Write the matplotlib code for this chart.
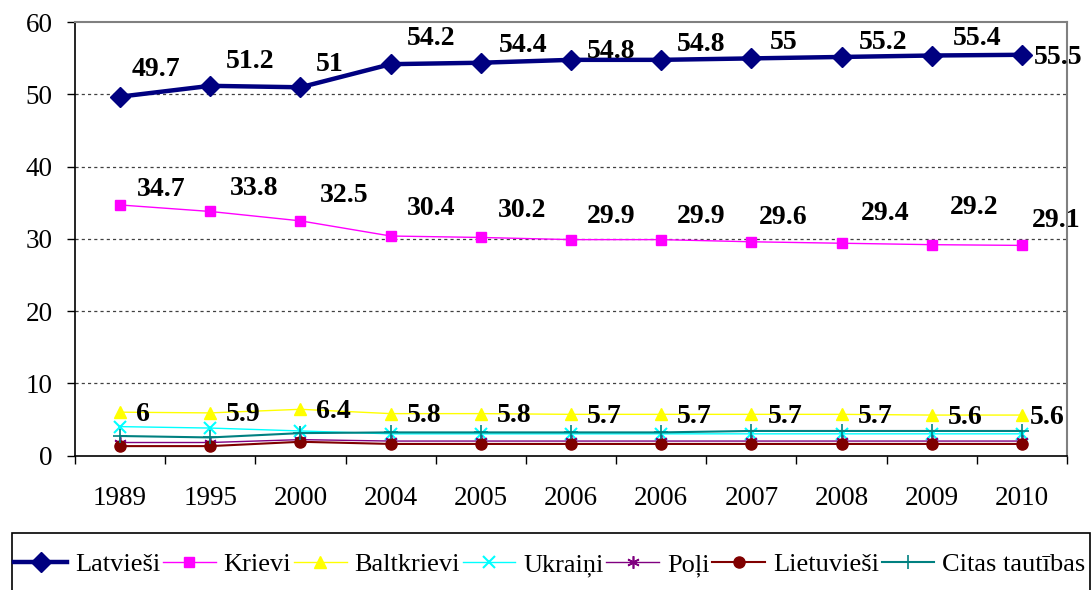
import matplotlib
matplotlib.use("Agg")
import matplotlib.pyplot as plt
from matplotlib.ticker import FixedLocator, NullFormatter
from matplotlib.patches import Rectangle

# ---- data ----
years = ["1989", "1995", "2000", "2004", "2005", "2006", "2006", "2007", "2008", "2009", "2010"]
latviesi = [49.7, 51.2, 51.0, 54.2, 54.4, 54.8, 54.8, 55.0, 55.2, 55.4, 55.5]
krievi = [34.7, 33.8, 32.5, 30.4, 30.2, 29.9, 29.9, 29.6, 29.4, 29.2, 29.1]
baltkrievi = [6.0, 5.9, 6.4, 5.8, 5.8, 5.7, 5.7, 5.7, 5.7, 5.6, 5.6]
ukraini = [4.0, 3.8, 3.4, 3.0, 3.0, 3.0, 3.0, 3.0, 3.0, 3.0, 3.0]
poli = [1.8, 1.8, 2.2, 2.0, 2.0, 2.0, 2.0, 2.0, 2.0, 2.0, 2.0]
lietuviesi = [1.3, 1.3, 1.9, 1.6, 1.6, 1.6, 1.6, 1.6, 1.6, 1.6, 1.6]
citas = [2.7, 2.5, 3.1, 3.2, 3.2, 3.2, 3.2, 3.4, 3.4, 3.4, 3.4]
labels_lv = ["49.7", "51.2", "51", "54.2", "54.4", "54.8", "54.8", "55", "55.2", "55.4", "55.5"]
labels_ru = ["34.7", "33.8", "32.5", "30.4", "30.2", "29.9", "29.9", "29.6", "29.4", "29.2", "29.1"]
labels_by = ["6", "5.9", "6.4", "5.8", "5.8", "5.7", "5.7", "5.7", "5.7", "5.6", "5.6"]

# ---- label placement (pixel offsets of label left edge / centre) ----
off_lv = [(12, 27), (16, 24), (15, 23), (16, 26), (18, 17), (16, 8), (16, 15), (18, 16), (17, 14), (21, 17), (12, -3)]
off_ru = [(17, 15), (20, 23), (19, 25), (16, 28), (17, 27), (16, 23), (16, 23), (8, 24), (19, 30), (18, 37), (10, 25)]
off_by = [(16, -2)] * 10 + [(8, -2)]

plt.rcParams['font.family'] = ['Liberation Serif', 'DejaVu Serif']

W, H = 1092, 590
fig = plt.figure(figsize=(W / 100, H / 100), dpi=100)
ax = fig.add_axes([75 / W, 1 - 455.5 / H, (1067 - 75) / W, (455.5 - 22.3) / H])

x = list(range(len(years)))

series = [
    (latviesi, "Latvieši", dict(color="#000080", lw=3.2, marker="D", ms=10.5, mec="#000080", mfc="#000080")),
    (krievi, "Krievi", dict(color="#FF00FF", lw=1.0, marker="s", ms=6.5, mec="#FF00FF", mfc="#FF00FF")),
    (baltkrievi, "Baltkrievi", dict(color="#FFFF00", lw=1.0, marker="^", ms=9, mec="#FFFF00", mfc="#FFFF00")),
    (ukraini, "Ukraiņi", dict(color="#00FFFF", lw=1.0, marker="x", ms=8, mew=1.5, mec="#00FFFF")),
    (poli, "Poļi", dict(color="#800080", lw=1.0, marker=(6, 2, 0), ms=9, mew=1.2, mec="#800080")),
    (lietuviesi, "Lietuvieši", dict(color="#800000", lw=1.5, marker="o", ms=8, mec="#800000", mfc="#800000")),
    (citas, "Citas tautības", dict(color="#008080", lw=1.5, marker="+", ms=10, mew=1.2, mec="#008080")),
]

handles = []
for vals, name, st in series:
    h, = ax.plot(x, vals, label=name, zorder=3, clip_on=False, **st)
    handles.append(h)

def put_labels(vals, texts, offs):
    for xi, v, t, (dx, dy) in zip(x, vals, texts, offs):
        ax.annotate(t, (xi, v), xytext=(dx, dy), textcoords="offset pixels",
                    ha="left", va="center", fontsize=20, fontweight="bold",
                    color="black", zorder=5, annotation_clip=False)

put_labels(latviesi, labels_lv, off_lv)
put_labels(krievi, labels_ru, off_ru)
put_labels(baltkrievi, labels_by, off_by)

ax.set_xlim(-0.5, len(years) - 0.5)
ax.set_ylim(0, 60)
ax.set_yticks([0, 10, 20, 30, 40, 50, 60])
ax.set_xticks(x)
ax.set_xticklabels(years)
ax.xaxis.set_minor_locator(FixedLocator([i - 0.5 for i in range(len(years) + 1)]))
ax.xaxis.set_minor_formatter(NullFormatter())
ax.tick_params(axis="x", which="major", length=0, pad=22, labelsize=19.5)
ax.tick_params(axis="x", which="minor", length=6, width=1, color="black", direction="out")
ax.tick_params(axis="y", which="major", length=6, width=1, pad=10, labelsize=19.5, direction="out")

for yv in [10, 20, 30, 40, 50]:
    ax.axhline(yv, color="#404040", lw=0.9, linestyle=(0, (2.5, 2.5)), zorder=1)

for s in ["left", "bottom"]:
    ax.spines[s].set_color("black")
    ax.spines[s].set_linewidth(1.2)
for s in ["top", "right"]:
    ax.spines[s].set_color("#808080")
    ax.spines[s].set_linewidth(1.5)

# legend frame drawn separately (box runs off the bottom edge)
fig.patches.append(Rectangle((12 / W, -0.05), (1090 - 12) / W, 0.05 + (H - 533) / H,
                             transform=fig.transFigure, fill=False, edgecolor="black",
                             linewidth=1.2, zorder=0))
leg = fig.legend(handles=handles, loc="center left", bbox_to_anchor=(13 / W, 1 - 565 / H),
                 ncol=7, fontsize=19, frameon=False, borderpad=0.05,
                 handlelength=2.0, handletextpad=0.3, columnspacing=0.1, borderaxespad=0)

fig.savefig("out.png", dpi=100)
